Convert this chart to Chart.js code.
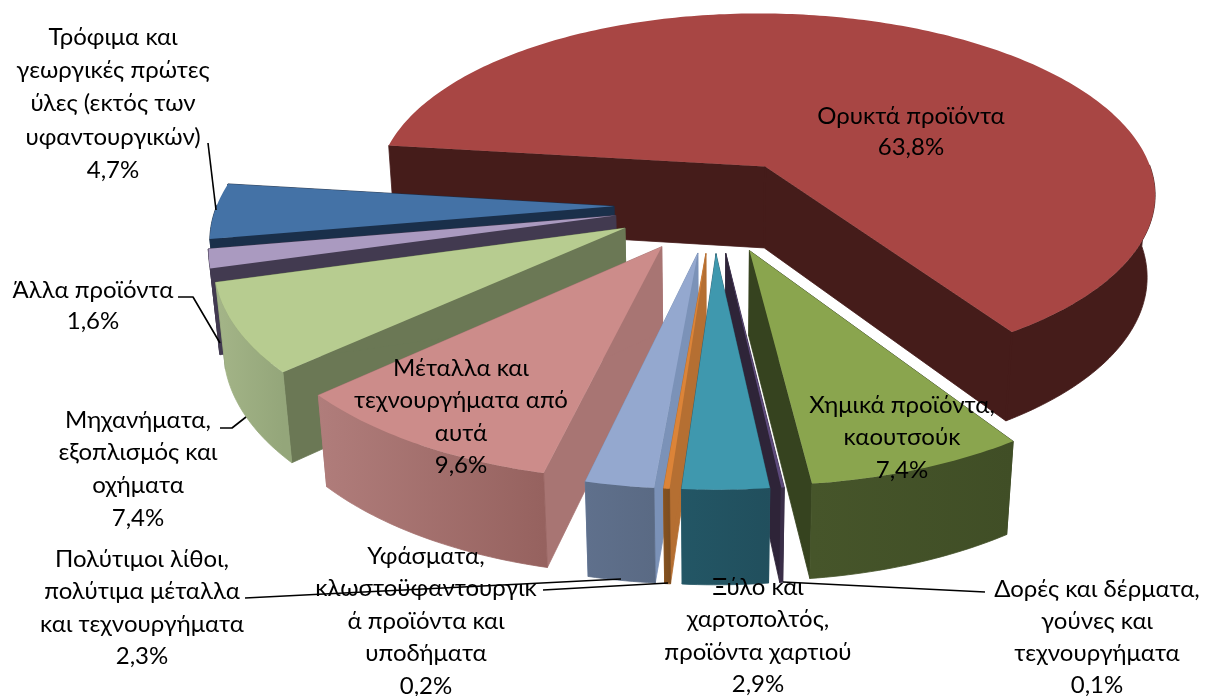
<!DOCTYPE html>
<html><head><meta charset="utf-8">
<style>html,body{margin:0;padding:0;background:#fff}canvas{display:block}</style>
<script src="https://cdn.jsdelivr.net/npm/chart.js@4"></script>
</head><body><canvas id="c" width="1205" height="696"></canvas>
<script>
const categories = ["Ορυκτά προϊόντα","Χημικά προϊόντα, καουτσούκ","Δορές και δέρματα, γούνες και τεχνουργήματα","Ξύλο και χαρτοπολτός, προϊόντα χαρτιού","Υφάσματα, κλωστοϋφαντουργικά προϊόντα και υποδήματα","Πολύτιμοι λίθοι, πολύτιμα μέταλλα και τεχνουργήματα","Μέταλλα και τεχνουργήματα από αυτά","Μηχανήματα, εξοπλισμός και οχήματα","Άλλα προϊόντα","Τρόφιμα και γεωργικές πρώτες ύλες (εκτός των υφαντουργικών)"];
const shares = [63.8,7.4,0.1,2.9,0.2,2.3,9.6,7.4,1.6,4.7];
const labelLines = [["Ορυκτά προϊόντα"],["Χημικά προϊόντα,","καουτσούκ"],["Δορές και δέρματα,","γούνες και","τεχνουργήματα"],["Ξύλο και","χαρτοπολτός,","προϊόντα χαρτιού"],["Υφάσματα,","κλωστοϋφαντουργικ","ά προϊόντα και","υποδήματα"],["Πολύτιμοι λίθοι,","πολύτιμα μέταλλα","και τεχνουργήματα"],["Μέταλλα και","τεχνουργήματα από","αυτά"],["Μηχανήματα,","εξοπλισμός και","οχήματα"],["Άλλα προϊόντα"],["Τρόφιμα και","γεωργικές πρώτες","ύλες (εκτός των","υφαντουργικών)"]];
const labelAnchor = [[911,116,31.5],[902,405,32.5],[1097,589,32],[758,587,32.5],[426,556,32.5],[142,559,32.5],[461,368,32.5],[138,420,32.7],[93,290,31],[113,37,33.3]];
const topColors = ["#a84644","#8aa54e","#5d4a7c","#3f98ae","#dc8438","#94a8cf","#cc8c8a","#b7cc90","#aa9ac0","#4472a6"];
const faceColors = ["#451c1a","#36431f","#2e2438","#2c6070","#b56f32","#7b92b8","#a87573","#6b7855","#423a50","#1a2f4a"];
const rimLight = ["#451c1a","#46552a","#3a2e48","#235665","#85521f","#5f708c","#b07d7b","#a4b588","#423a50","#1a2f4a"];
const rimDark = ["#451c1a","#404e26","#3a2e48","#214f5d","#7c4d20","#5a6a84","#96625f","#94a67a","#423a50","#1a2f4a"];
const leaders = [[[208,143],[216,210]],[[178,297],[193,297],[220,343]],[[220,428],[232,428],[246,417]],[[245,598],[621,579]],[[543,590],[668,583]],[[783,582],[985,592]]];

const view = {cx:714, cy:205, R:397, h:96, sinT:0.468, D:2400};
view.cosT = Math.sqrt(1-view.sinT*view.sinT);
function project(u,v,z){
  const yy = v*view.sinT + z*view.cosT;
  const d = view.D - v*view.cosT + z*view.sinT;
  const s = view.D/d;
  return [view.cx+u*s, view.cy+yy*s];
}
function tracePts(ctx,pts){pts.forEach((p,i)=> i?ctx.lineTo(p[0],p[1]):ctx.moveTo(p[0],p[1]));ctx.closePath();}
function seam(ctx,color,a,b){ctx.strokeStyle=color;ctx.lineWidth=2;ctx.beginPath();ctx.moveTo(a[0],a[1]);ctx.lineTo(b[0],b[1]);ctx.stroke();ctx.lineWidth=0.8;}

const pie3d = {
  id:'pie3d',
  beforeDatasetDraw(chart){
    const ctx = chart.ctx, arcs = chart.getDatasetMeta(0).data;
    const items = arcs.map((arc,i)=>{
      const a0=arc.startAngle,a1=arc.endAngle,mid=(a0+a1)/2,e=arc.options.offset;
      return {i,a0,a1,ou:e*Math.cos(mid),ov:e*Math.sin(mid)};
    }).sort((p,q)=>p.ov-q.ov);
    ctx.lineWidth=0.8;ctx.lineJoin='round';
    for(const it of items){
      const {i,a0,a1,ou,ov}=it, R=view.R, n=Math.max(6,Math.ceil((a1-a0)*60));
      const pt=(a,z)=>project(ou+R*Math.cos(a),ov+R*Math.sin(a),z);
      const apex=z=>project(ou,ov,z);
      ctx.fillStyle=faceColors[i];ctx.strokeStyle=faceColors[i];
      for(const a of [a0,a1]){
        ctx.beginPath();tracePts(ctx,[apex(0),pt(a,0),pt(a,view.h),apex(view.h)]);ctx.fill();ctx.stroke();
      }
      if(a1-a0>Math.PI) seam(ctx,faceColors[i],apex(0),apex(view.h-1));
      const front=[];
      for(let k=0;k<=n;k++){const a=a0+(a1-a0)*k/n; if(Math.sin(a)>=-0.02) front.push(a);}
      if(front.length>1){
        const up=front.map(a=>pt(a,0)), dn=front.map(a=>pt(a,view.h)).reverse();
        const g=ctx.createLinearGradient(up[0][0],0,up[up.length-1][0]+0.01,0);
        g.addColorStop(0,rimDark[i]);g.addColorStop(1,rimLight[i]);
        ctx.fillStyle=g;ctx.strokeStyle=g;ctx.beginPath();tracePts(ctx,up.concat(dn));ctx.fill();ctx.stroke();
      }
      if(rimDark[i]===faceColors[i]) seam(ctx,faceColors[i],pt(a1,0),pt(a1,view.h-1));
      const top=[apex(0)];
      for(let k=0;k<=n;k++)top.push(pt(a0+(a1-a0)*k/n,0));
      ctx.fillStyle=topColors[i];ctx.beginPath();tracePts(ctx,top);ctx.fill();
    }
    return false;
  },
  afterDatasetsDraw(chart){
    const ctx=chart.ctx;
    ctx.save();
    ctx.strokeStyle='#000';ctx.lineWidth=1.6;
    for(const l of leaders){ctx.beginPath();l.forEach((p,i)=>i?ctx.lineTo(p[0],p[1]):ctx.moveTo(p[0],p[1]));ctx.stroke();}
    ctx.fillStyle='#000';ctx.textAlign='center';ctx.textBaseline='middle';
    ctx.font='24px Lato, "Open Sans", sans-serif';
    labelLines.forEach((ls,i)=>{
      const [x,y,lh]=labelAnchor[i];
      ls.concat([shares[i].toFixed(1).replace('.',',')+'%']).forEach((t,j)=>ctx.fillText(t,x,y+j*lh));
    });
    ctx.restore();
  }
};
new Chart(document.getElementById('c'),{
  type:'pie',
  data:{labels:categories,datasets:[{data:shares,backgroundColor:topColors,offset:100,borderWidth:0,rotation:-83}]},
  options:{responsive:false,animation:false,plugins:{legend:{display:false},tooltip:{enabled:false}}},
  plugins:[pie3d]
});
</script></body></html>
